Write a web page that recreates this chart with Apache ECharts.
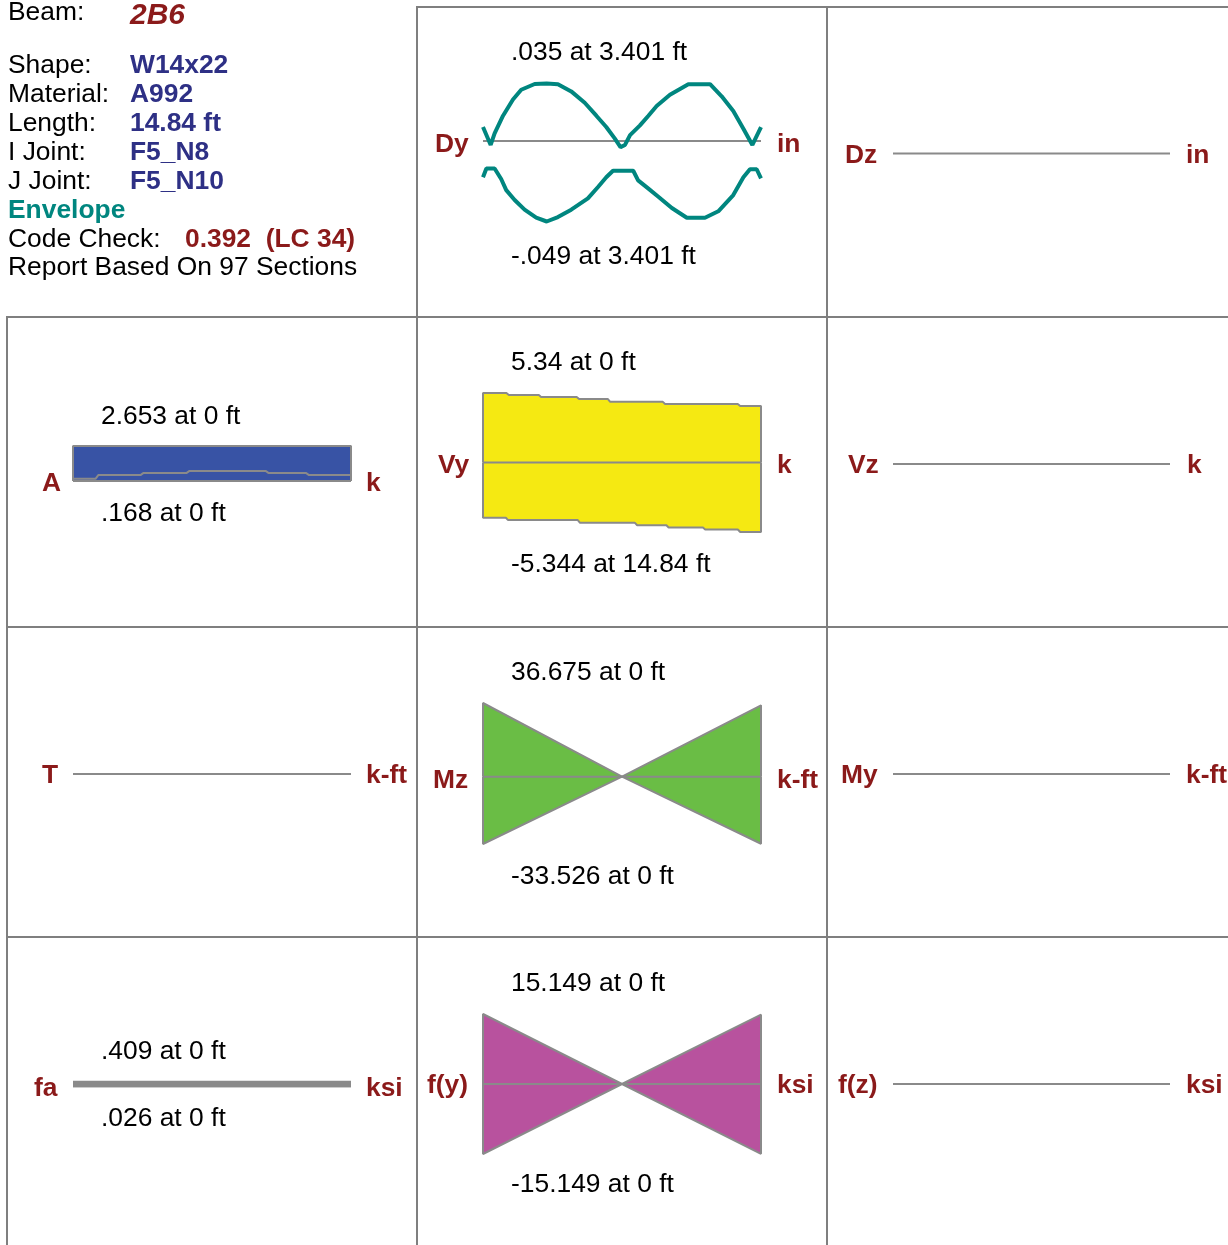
<!DOCTYPE html>
<html>
<head>
<meta charset="utf-8">
<title>Beam 2B6 Envelope</title>
<script src="https://cdn.jsdelivr.net/npm/echarts@6.0.0/dist/echarts.min.js"></script>
<style>body { margin: 0; background: #fff; }</style>
</head>
<body>
<div id="main" style="width: 1228px; height: 1245px;"></div>
<script>
var beamLength = 14.84;

// Dy envelope (in)
var dyMaxX = [0, 0.41, 0.62, 1.07, 1.60, 2.04, 2.76, 3.40, 4.00, 4.71, 5.43, 6.05, 6.58, 7.03, 7.34, 7.58, 7.85, 8.38, 8.83, 9.27, 9.98, 10.96, 12.12, 12.74, 13.36, 13.90, 14.38, 14.84];
var dyMaxV = [0.0085, -0.0024, 0.0046, 0.0154, 0.0253, 0.0312, 0.0347, 0.0350, 0.0346, 0.0302, 0.0233, 0.0154, 0.0085, 0.0016, -0.0037, -0.0024, 0.0036, 0.0095, 0.0154, 0.0213, 0.0282, 0.0346, 0.0346, 0.0272, 0.0183, 0.0075, -0.0024, 0.0085];
var dyMinX = [0, 0.18, 0.62, 0.97, 1.24, 1.69, 2.22, 2.84, 3.40, 4.00, 4.71, 5.60, 6.14, 6.58, 6.94, 7.56, 8.02, 8.28, 8.83, 9.36, 10.08, 10.88, 11.85, 12.56, 13.36, 13.90, 14.25, 14.61, 14.84];
var dyMinV = [-0.0221, -0.0167, -0.0167, -0.0231, -0.0299, -0.0359, -0.0418, -0.0467, -0.0490, -0.0463, -0.0418, -0.0349, -0.0280, -0.0221, -0.0181, -0.0181, -0.0181, -0.0240, -0.0290, -0.0339, -0.0408, -0.0467, -0.0467, -0.0428, -0.0329, -0.0221, -0.0172, -0.0172, -0.0227];

// A envelope (k)
var aMaxX = [0, 14.84];
var aMaxV = [2.653, 2.653];
var aMinX = [0, 1.2, 1.35, 3.6, 3.75, 6.05, 6.2, 10.3, 10.45, 12.45, 12.6, 14.84];
var aMinV = [0.168, 0.168, 0.45, 0.45, 0.6, 0.6, 0.75, 0.75, 0.6, 0.6, 0.45, 0.45];

// Vy envelope (k)
var vyMaxX = [0, 1.25, 1.38, 2.98, 3.10, 5.0, 5.13, 6.67, 6.79, 9.6, 9.72, 13.6, 13.73, 14.84];
var vyMaxV = [5.34, 5.34, 5.19, 5.19, 5.04, 5.04, 4.87, 4.87, 4.66, 4.66, 4.49, 4.49, 4.34, 4.34];
var vyMinX = [0, 1.22, 1.34, 5.06, 5.18, 8.11, 8.23, 9.79, 9.91, 11.74, 11.86, 13.6, 13.73, 14.84];
var vyMinV = [-4.25, -4.25, -4.43, -4.43, -4.64, -4.64, -4.82, -4.82, -5.0, -5.0, -5.15, -5.15, -5.344, -5.344];

// Mz envelope (k-ft)
var mzX = [0, 7.42, 14.84];
var mzMaxV = [36.675, 0, 35.5];
var mzMinV = [-33.526, 0, -33.4];

// fa envelope (ksi)
var faX = [0, 14.84];
var faMaxV = [0.409, 0.409];
var faMinV = [0.026, 0.026];

// f(y) envelope (ksi)
var fyX = [0, 7.42, 14.84];
var fyMaxV = [15.149, 0, 15.0];
var fyMinV = [-15.149, 0, -15.1];

// diagrams with no values
var zeroX = [0, 14.84];
var zeroV = [0, 0];

var extremeLabels = {
    dy: ['.035 at 3.401 ft', '-.049 at 3.401 ft'],
    a: ['2.653 at 0 ft', '.168 at 0 ft'],
    vy: ['5.34 at 0 ft', '-5.344 at 14.84 ft'],
    mz: ['36.675 at 0 ft', '-33.526 at 0 ft'],
    fa: ['.409 at 0 ft', '.026 at 0 ft'],
    fy: ['15.149 at 0 ft', '-15.149 at 0 ft']
};

var FONT = "'Liberation Sans', Arial, Helvetica, sans-serif";
var FS = 26.4;
var DARKRED = '#8b1a1a';
var NAVY = '#2e3085';
var TEAL = '#00867f';
var GRAY = '#8a8a8a';

function pairs(xs, vs) {
    var out = [];
    for (var i = 0; i < xs.length; i++) out.push([xs[i], vs[i]]);
    return out;
}

// close the outline down to the baseline at both ends
function closed(pts) {
    return [[pts[0][0], 0]].concat(pts, [[pts[pts.length - 1][0], 0]]);
}

var grids = [], xAxes = [], yAxes = [], series = [];

function addGrid(left, top, width, height, ymin, ymax) {
    var idx = grids.length;
    grids.push({ left: left, top: top, width: width, height: height });
    xAxes.push({ type: 'value', gridIndex: idx, min: 0, max: beamLength, show: false });
    yAxes.push({ type: 'value', gridIndex: idx, min: ymin, max: ymax, show: false });
    return idx;
}

function addLine(g, data, color, width, fill) {
    var s = {
        type: 'line', xAxisIndex: g, yAxisIndex: g, data: data,
        showSymbol: false, symbol: 'none', clip: false, silent: true,
        lineStyle: { color: color, width: width }
    };
    if (fill) s.areaStyle = { color: fill, opacity: 1 };
    series.push(s);
}

function baseline(g, w) {
    addLine(g, [[0, 0], [beamLength, 0]], GRAY, w || 2);
}

// Dy
var g = addGrid(483, 83.5, 278, 138, -0.049, 0.035);
baseline(g);
addLine(g, pairs(dyMaxX, dyMaxV), TEAL, 4);
addLine(g, pairs(dyMinX, dyMinV), TEAL, 4);

// A
g = addGrid(73, 446, 278, 35, 0, 2.653);
addLine(g, closed(pairs(aMaxX, aMaxV)), GRAY, 2, '#3853a5');
addLine(g, pairs(aMinX, aMinV), GRAY, 2);
baseline(g);

// Vy
g = addGrid(483, 393, 278, 139, -5.344, 5.34);
addLine(g, closed(pairs(vyMaxX, vyMaxV)), GRAY, 2, '#f5e912');
addLine(g, closed(pairs(vyMinX, vyMinV)), GRAY, 2, '#f5e912');
baseline(g);

// Mz
g = addGrid(483, 703, 278, 141, -33.526, 36.675);
addLine(g, closed(pairs(mzX, mzMaxV)), GRAY, 2, '#6abd45');
addLine(g, closed(pairs(mzX, mzMinV)), GRAY, 2, '#6abd45');
baseline(g);

// fa
g = addGrid(73, 1075, 278, 20, -2.164, 2.164);
addLine(g, pairs(faX, faMaxV), GRAY, 4.5, GRAY);
addLine(g, pairs(faX, faMinV), GRAY, 4.5);
baseline(g, 4.5);

// f(y)
g = addGrid(483, 1014, 278, 140, -15.149, 15.149);
addLine(g, closed(pairs(fyX, fyMaxV)), GRAY, 2, '#b8529e');
addLine(g, closed(pairs(fyX, fyMinV)), GRAY, 2, '#b8529e');
baseline(g);

// Dz, Vz, T, My, f(z)
var zeroDiagrams = [[893, 153.5], [893, 464], [73, 774], [893, 774], [893, 1084]];
for (var i = 0; i < zeroDiagrams.length; i++) {
    g = addGrid(zeroDiagrams[i][0], zeroDiagrams[i][1] - 10, zeroDiagrams[i][0] === 73 ? 278 : 277, 20, -1, 1);
    addLine(g, pairs(zeroX, zeroV), GRAY, 2);
}

// texts
var graphics = [];
function txt(s, x, y, size, color, weight, style) {
    graphics.push({
        type: 'text', x: x, y: y + 2, silent: true,
        style: {
            text: s, fill: color || '#000',
            font: (style || 'normal') + ' ' + (weight || 'normal') + ' ' + (size || FS) + 'px ' + FONT,
            textAlign: 'left', textVerticalAlign: 'middle', verticalAlign: 'middle'
        }
    });
}
function hline(x1, x2, y) {
    graphics.push({ type: 'line', silent: true, shape: { x1: x1, y1: y, x2: x2, y2: y }, style: { stroke: '#7f7f7f', lineWidth: 2 } });
}
function vline(x, y1, y2) {
    graphics.push({ type: 'line', silent: true, shape: { x1: x, y1: y1, x2: x, y2: y2 }, style: { stroke: '#7f7f7f', lineWidth: 2 } });
}

// cell frame
vline(417, 6, 1245);
vline(827, 6, 1245);
vline(7, 316, 1245);
hline(416, 1228, 7);
hline(6, 1228, 317);
hline(6, 1228, 627);
hline(6, 1228, 937);

// beam info
txt('Beam:', 8, 11);
txt('2B6', 130, 14, 30, DARKRED, 'bold', 'italic');
var infoNames = ['Shape:', 'Material:', 'Length:', 'I Joint:', 'J Joint:'];
var infoValues = ['W14x22', 'A992', '14.84 ft', 'F5_N8', 'F5_N10'];
for (i = 0; i < infoNames.length; i++) {
    txt(infoNames[i], 8, 64 + i * 29);
    txt(infoValues[i], 130, 64 + i * 29, FS, NAVY, 'bold');
}
txt('Envelope', 8, 209, FS, TEAL, 'bold');
txt('Code Check:', 8, 238);
txt('0.392  (LC 34)', 185, 238, FS, DARKRED, 'bold');
txt('Report Based On 97 Sections', 8, 266);

// diagram names and units
var diagramLabels = [
    ['Dy', 435, 143, 'in', 777, 143],
    ['Dz', 845, 154, 'in', 1186, 154],
    ['A', 42, 482, 'k', 366, 482],
    ['Vy', 438, 464, 'k', 777, 464],
    ['Vz', 848, 464, 'k', 1187, 464],
    ['T', 42, 774, 'k-ft', 366, 774],
    ['Mz', 433, 779, 'k-ft', 777, 779],
    ['My', 841, 774, 'k-ft', 1186, 774],
    ['fa', 34, 1087, 'ksi', 366, 1087],
    ['f(y)', 427, 1084, 'ksi', 777, 1084],
    ['f(z)', 838, 1084, 'ksi', 1186, 1084]
];
for (i = 0; i < diagramLabels.length; i++) {
    var d = diagramLabels[i];
    txt(d[0], d[1], d[2], FS, DARKRED, 'bold');
    txt(d[3], d[4], d[5], FS, DARKRED, 'bold');
}

// max / min labels
txt(extremeLabels.dy[0], 511, 51);
txt(extremeLabels.dy[1], 511, 255);
txt(extremeLabels.a[0], 101, 415);
txt(extremeLabels.a[1], 101, 512);
txt(extremeLabels.vy[0], 511, 361);
txt(extremeLabels.vy[1], 511, 563);
txt(extremeLabels.mz[0], 511, 671);
txt(extremeLabels.mz[1], 511, 875);
txt(extremeLabels.fa[0], 101, 1050);
txt(extremeLabels.fa[1], 101, 1117);
txt(extremeLabels.fy[0], 511, 982);
txt(extremeLabels.fy[1], 511, 1183);

var chart = echarts.init(document.getElementById('main'));
chart.setOption({
    animation: false,
    backgroundColor: '#fff',
    grid: grids,
    xAxis: xAxes,
    yAxis: yAxes,
    series: series,
    graphic: graphics
});
</script>
</body>
</html>
